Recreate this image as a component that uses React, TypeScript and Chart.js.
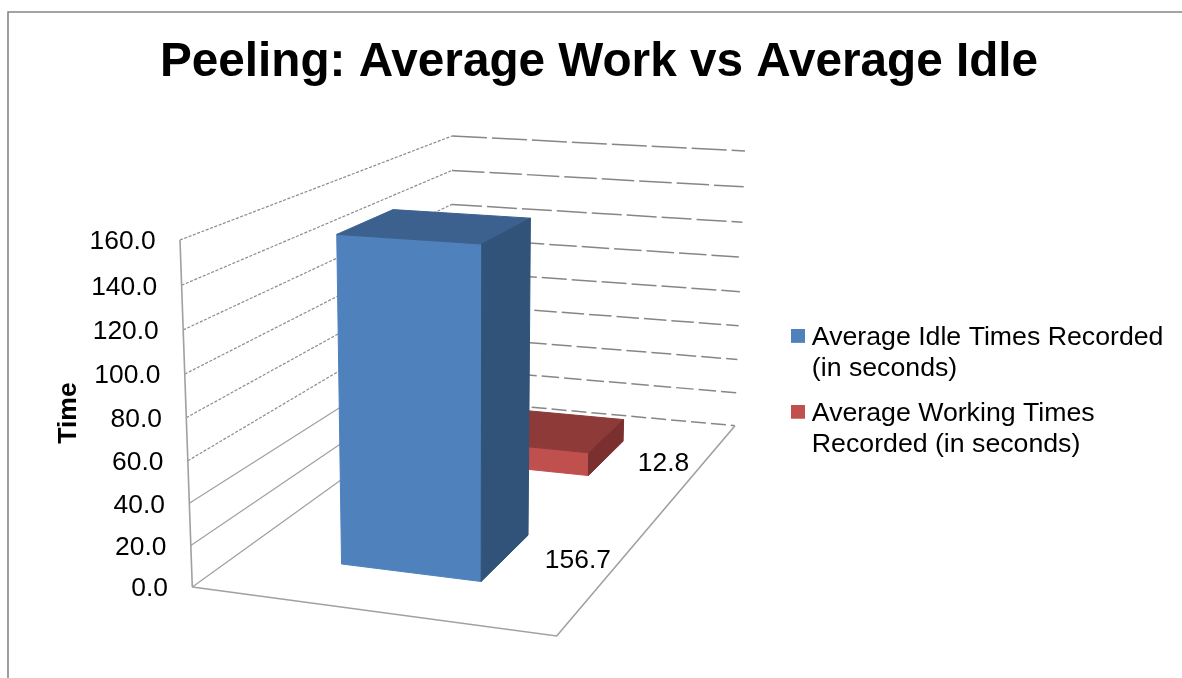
import React, { useEffect, useRef } from "react";
import { Chart, registerables } from "chart.js";

Chart.register(...registerables);

const chartTitle = "Peeling: Average Work vs Average Idle";
const axisTitle = "Time";
const categories = ["Peeling"];
const idleLegend = ["Average Idle Times Recorded", "(in seconds)"];
const workLegend = ["Average Working Times", "Recorded (in seconds)"];
const idleTimes = [156.7];
const workingTimes = [12.8];
const axisMin = 0;
const axisMax = 160;
const axisStep = 20;

const FONT = "'Liberation Sans', Arial, sans-serif";
const W = 1182;
const H = 678;

type Pt = [number, number];
// Corners of the 3D box as it appears on the page: front-left, front-right, back-right, back-left
const FLOOR: Pt[] = [[192.3, 587], [556.7, 636], [735, 425.7], [452, 400]];
const CEIL: Pt[] = [[180, 240], [559, 266], [745, 151], [452, 136]];
const PERSPECTIVE = 0.953;
const DEPTH = 0.2;
// where each value label lies on the floor, per series
const LABEL_U = [0.893, 0.885];
const LABEL_V_SHIFT = [0.02, 0];

const faces = [
  { front: "#4F81BD", top: "#3C618F", side: "#325379" },
  { front: "#C0504D", top: "#8E3A38", side: "#7A302E" },
];

function homography(c: Pt[], u: number, v: number): Pt {
  const [A, B, C, D] = c;
  const sx = A[0] - B[0] + C[0] - D[0];
  const sy = A[1] - B[1] + C[1] - D[1];
  const d1x = B[0] - C[0];
  const d1y = B[1] - C[1];
  const d2x = D[0] - C[0];
  const d2y = D[1] - C[1];
  const det = d1x * d2y - d1y * d2x;
  const g = (sx * d2y - sy * d2x) / det;
  const h = (d1x * sy - d1y * sx) / det;
  const w = g * u + h * v + 1;
  return [
    ((B[0] - A[0] + g * B[0]) * u + (D[0] - A[0] + h * D[0]) * v + A[0]) / w,
    ((B[1] - A[1] + g * B[1]) * u + (D[1] - A[1] + h * D[1]) * v + A[1]) / w,
  ];
}

function project(u: number, v: number, h: number): Pt {
  const f = (PERSPECTIVE * h) / (1 + (PERSPECTIVE - 1) * h);
  const a = homography(FLOOR, u, v);
  const b = homography(CEIL, u, v);
  return [a[0] + (b[0] - a[0]) * f, a[1] + (b[1] - a[1]) * f];
}

function poly(ctx: CanvasRenderingContext2D, pts: Pt[], fill: string) {
  ctx.beginPath();
  pts.forEach((p, i) => (i ? ctx.lineTo(p[0], p[1]) : ctx.moveTo(p[0], p[1])));
  ctx.closePath();
  ctx.fillStyle = fill;
  ctx.fill();
  ctx.strokeStyle = fill;
  ctx.lineWidth = 1;
  ctx.stroke();
}

function line(
  ctx: CanvasRenderingContext2D,
  pts: Pt[],
  color: string,
  width: number,
  dash: number[] = []
) {
  ctx.beginPath();
  pts.forEach((p, i) => (i ? ctx.lineTo(p[0], p[1]) : ctx.moveTo(p[0], p[1])));
  ctx.strokeStyle = color;
  ctx.lineWidth = width;
  ctx.setLineDash(dash);
  ctx.stroke();
  ctx.setLineDash([]);
}

const frame3d = {
  id: "frame3d",
  beforeDraw(chart: any) {
    const { ctx } = chart;
    ctx.save();
    ctx.fillStyle = "#fff";
    ctx.fillRect(0, 0, W, H);
    line(ctx, [[8, H], [8, 12], [W, 12]], "#868686", 1.6);
    ctx.restore();
  },
  afterLayout(chart: any) {
    const l = chart.legend;
    l.left = 782.5;
    l.right = W;
    l.top = 309.5;
    l.bottom = H;
  },
  beforeDatasetsDraw(chart: any) {
    const { ctx, scales, chartArea } = chart;
    const y = scales.y;
    const frac = (px: number) => (y.bottom - px) / (y.bottom - y.top);
    ctx.save();

    // walls and value gridlines
    y.ticks.forEach((t: any) => {
      const h = frac(y.getPixelForValue(t.value));
      const period = 20 + 20 * h;
      line(ctx, [project(0, 0, h), project(0, 1, h)], h > 0.35 ? "#8c8c8c" : "#a0a0a0", 1.2, h > 0.35 ? [3, 1.6] : []);
      line(ctx, [project(0, 1, h), project(1, 1, h)], "#868686", 1.5, [period - 5, 5]);
    });
    line(ctx, [project(0, 0, 0), project(0, 0, 1)], "#a0a0a0", 1.6);
    line(ctx, [project(0, 0, 0), project(1, 0, 0), project(1, 1, 0)], "#a0a0a0", 1.6);

    // bars, rear series first
    const n = chart.data.datasets.length;
    for (let i = n - 1; i >= 0; i--) {
      const el = chart.getDatasetMeta(i).data[0];
      const span = chartArea.right - chartArea.left;
      const u0 = (el.x - el.width / 2 - chartArea.left) / span;
      const u1 = (el.x + el.width / 2 - chartArea.left) / span;
      const vc = (i + 0.5) / n;
      const v0 = vc - DEPTH / 2;
      const v1 = vc + DEPTH / 2;
      const b = frac(el.base);
      const h = frac(el.y);
      const c = faces[i];
      poly(ctx, [project(u0, v0, b), project(u1, v0, b), project(u1, v0, h), project(u0, v0, h)], c.front);
      poly(ctx, [project(u0, v0, h), project(u1, v0, h), project(u1, v1, h), project(u0, v1, h)], c.top);
      poly(ctx, [project(u1, v0, b), project(u1, v1, b), project(u1, v1, h), project(u1, v0, h)], c.side);
    }

    // value labels lying on the floor beside each bar
    ctx.fillStyle = "#000";
    ctx.font = `26.4px ${FONT}`;
    ctx.textAlign = "center";
    ctx.textBaseline = "middle";
    chart.data.datasets.forEach((ds: any, i: number) => {
      const p = project(LABEL_U[i], (i + 0.5) / n + LABEL_V_SHIFT[i], 0);
      ctx.fillText(ds.data[0].toFixed(1), p[0], p[1]);
    });

    // tick labels follow the leaning front edge of the wall
    ctx.textAlign = "right";
    y.ticks.forEach((t: any) => {
      const p = project(0, 0, frac(y.getPixelForValue(t.value)));
      ctx.fillText(t.label, p[0] - 24.4, p[1] + 2);
    });

    ctx.restore();
    return false;
  },
};

function swatch(color: string) {
  const c = document.createElement("canvas");
  c.width = 14;
  c.height = 18;
  const g = c.getContext("2d")!;
  g.fillStyle = color;
  g.fillRect(0, 0, 14, 14);
  return c;
}

export default function App() {
  const ref = useRef<HTMLCanvasElement>(null);
  useEffect(() => {
    const chart = new Chart(ref.current!, {
      type: "bar",
      plugins: [frame3d as any],
      data: {
        labels: categories,
        datasets: [
          { label: idleLegend.join(" "), data: idleTimes, backgroundColor: faces[0].front },
          { label: workLegend.join(" "), data: workingTimes, backgroundColor: faces[1].front },
        ],
      },
      options: {
        responsive: false,
        animation: false,
        font: { family: FONT },
        layout: { padding: { left: 16, right: 0, top: 0, bottom: H - 586 } },
        datasets: { bar: { categoryPercentage: 0.4, barPercentage: 1 } },
        scales: {
          x: { display: false, stacked: true, grid: { display: false } },
          y: {
            min: axisMin,
            max: axisMax,
            grid: { display: false },
            border: { display: false },
            ticks: {
              display: false,
              stepSize: axisStep,
              callback: (v: any) => Number(v).toFixed(1),
            },
            title: {
              display: true,
              text: axisTitle,
              color: "#000",
              font: { family: FONT, size: 26.6, weight: "bold" },
              padding: { top: 36.5, bottom: 107.6 },
            },
          },
        },
        plugins: {
          title: {
            display: true,
            text: chartTitle,
            color: "#000",
            font: { family: FONT, size: 47.7, weight: "bold" },
            padding: { top: 34.1, bottom: 148.7 },
          },
          tooltip: { enabled: false },
          legend: {
            position: "right",
            align: "start",
            labels: {
              color: "#000",
              font: { family: FONT, size: 26.7, lineHeight: 1.14 },
              usePointStyle: true,
              boxWidth: 1,
              boxHeight: 14,
              padding: 15,
              generateLabels: () =>
                [idleLegend, workLegend].map((text, i) => ({
                  text,
                  datasetIndex: i,
                  fontColor: "#000",
                  pointStyle: swatch(faces[i].front),
                  fillStyle: faces[i].front,
                  strokeStyle: faces[i].front,
                  lineWidth: 0,
                  hidden: false,
                })) as any,
            },
          },
        },
      } as any,
    });
    return () => chart.destroy();
  }, []);
  return (
    <div style={{ position: "fixed", left: 0, top: 0, width: W, height: H }}>
      <canvas ref={ref} width={W} height={H} style={{ display: "block", filter: "blur(0.5px)" }} />
    </div>
  );
}
